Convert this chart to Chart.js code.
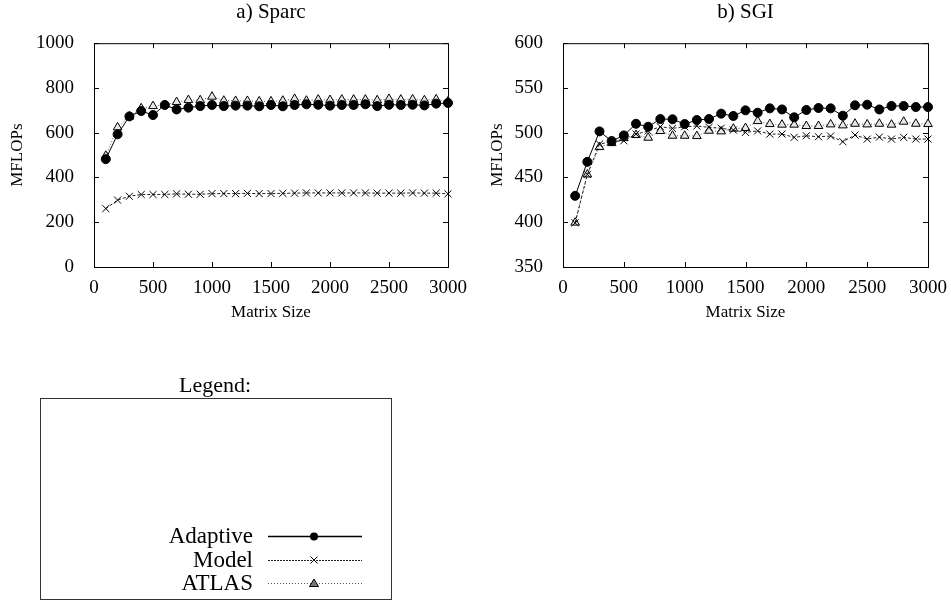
<!DOCTYPE html>
<html>
<head>
<meta charset="utf-8">
<script src="https://cdn.jsdelivr.net/npm/chart.js@4.4.1/dist/chart.umd.min.js"></script>
<style>
  body { margin: 0; background: #fff; width: 951px; height: 601px; overflow: hidden; position: relative; }
  canvas { position: absolute; }
</style>
</head>
<body>
<canvas id="sparc" width="470" height="330" style="left:0;top:0"></canvas>
<canvas id="sgi" width="471" height="330" style="left:480px;top:0"></canvas>
<canvas id="legend" width="400" height="241" style="left:0;top:360px"></canvas>
<script>
// matrix sizes (x values)
const sizes = [100, 200, 300, 400, 500, 600, 700, 800, 900, 1000,
  1100, 1200, 1300, 1400, 1500, 1600, 1700, 1800, 1900, 2000,
  2100, 2200, 2300, 2400, 2500, 2600, 2700, 2800, 2900, 3000];

// a) Sparc, MFLOPs
const sparcAdaptive = [482, 593, 673, 697, 679, 724, 704, 712, 719, 724,
  719, 721, 721, 718, 724, 718, 724, 727, 725, 721,
  724, 724, 727, 719, 725, 724, 725, 722, 730, 733];
const sparcModel = [261, 299, 316, 324, 324, 324, 327, 325, 325, 328,
  328, 328, 329, 328, 328, 329, 330, 331, 331, 331,
  331, 331, 331, 330, 330, 330, 331, 330, 330, 327];
const sparcAtlas = [497, 624, 672, 709, 719, 724, 737, 746, 745, 761,
  743, 742, 742, 740, 740, 743, 751, 743, 748, 746,
  748, 748, 748, 745, 751, 748, 749, 745, 749, 740];

// b) SGI, MFLOPs
const sgiAdaptive = [429.5, 467.5, 501.5, 490.7, 497, 510, 506.7, 515.3, 515, 509.7,
  514.2, 515.3, 521.3, 518.7, 525, 522.4, 527.2, 526, 517.2, 525.4,
  527.6, 527.2, 519, 530.6, 531.3, 526, 529.9, 529.9, 528.7, 528.7];
const sgiModel = [399.3, 453.4, 487.3, 490, 491, 498.5, 501.9, 506.7, 504.9, 506.7,
  507.5, 506, 505, 503, 500.4, 502, 498.5, 498.5, 494.8, 496.6,
  495.5, 496.3, 490, 497.4, 492.9, 495.1, 492.9, 494.8, 492.9, 492.9];
const sgiAtlas = [399.6, 453.4, 484, 488.4, 494, 497.4, 494.4, 501.9, 496.6, 496.6,
  496.3, 502.2, 501.5, 504.5, 505.2, 513, 509.7, 509, 509, 507.5,
  507.5, 509.3, 508.2, 510, 509.3, 510, 509, 512.3, 510, 509.7];

const seriesNames = ['Adaptive', 'Model', 'ATLAS'];
const xTicks = { min: 0, max: 3000, step: 500 };
const SERIF = '"Liberation Serif", "Times New Roman", serif';

// gnuplot style frame with inward tick marks
const framePlugin = {
  id: 'frame',
  beforeDatasetsDraw(chart) {
    const { ctx, chartArea: a, scales } = chart;
    const t = 5;
    ctx.save();
    ctx.strokeStyle = '#000';
    ctx.lineWidth = 1;
    ctx.strokeRect(a.left + 0.5, a.top + 0.5, a.right - a.left, a.bottom - a.top);
    ctx.beginPath();
    scales.x.ticks.forEach((tk) => {
      const px = Math.round(scales.x.getPixelForValue(tk.value)) + 0.5;
      ctx.moveTo(px, a.bottom); ctx.lineTo(px, a.bottom - t);
      ctx.moveTo(px, a.top); ctx.lineTo(px, a.top + t);
    });
    scales.y.ticks.forEach((tk) => {
      const py = Math.round(scales.y.getPixelForValue(tk.value)) + 0.5;
      ctx.moveTo(a.left, py); ctx.lineTo(a.left + t, py);
      ctx.moveTo(a.right, py); ctx.lineTo(a.right - t, py);
    });
    ctx.stroke();
    ctx.restore();
  },
};

function toPoints(values) {
  return values.map((v, i) => ({ x: sizes[i], y: v }));
}

function makeChart(id, title, yMin, yMax, yStep, yWidth, adaptive, model, atlas) {
  return new Chart(document.getElementById(id), {
    type: 'line',
    data: {
      datasets: [
        {
          label: seriesNames[0],
          data: toPoints(adaptive),
          borderColor: '#000',
          borderWidth: 1,
          pointStyle: 'circle',
          pointRadius: 4.5,
          pointBackgroundColor: '#000',
          pointBorderColor: '#000',
          clip: false,
        },
        {
          label: seriesNames[1],
          data: toPoints(model),
          borderColor: '#222',
          borderWidth: 1,
          borderDash: [3, 2],
          pointStyle: 'crossRot',
          pointRadius: 5,
          pointBorderColor: '#000',
          pointBorderWidth: 1,
          clip: false,
        },
        {
          label: seriesNames[2],
          data: toPoints(atlas),
          borderColor: '#555',
          borderWidth: 1,
          borderDash: [1, 2],
          pointStyle: 'triangle',
          pointRadius: 5,
          pointBackgroundColor: '#e6e6e6',
          pointBorderColor: '#000',
          pointBorderWidth: 1,
          clip: false,
        },
      ],
    },
    options: {
      responsive: false,
      animation: false,
      events: [],
      layout: { padding: { left: 0, right: id === 'sparc' ? 22 : 23, top: 0, bottom: 0 } },
      plugins: {
        legend: { display: false },
        tooltip: { enabled: false },
        title: {
          display: true,
          text: title,
          fullSize: false,
          color: '#000',
          font: { family: SERIF, size: 21, weight: 'normal' },
          padding: { top: 0, bottom: 18 },
        },
      },
      scales: {
        x: {
          type: 'linear',
          min: xTicks.min,
          max: xTicks.max,
          grid: { display: false },
          border: { display: false },
          ticks: {
            stepSize: xTicks.step, color: '#000', padding: 2,
            font: { family: SERIF, size: 19 },
            callback: (v) => String(v),
          },
          title: {
            display: true, text: 'Matrix Size', color: '#000',
            font: { family: SERIF, size: 17 }, padding: { top: 0, bottom: 7 },
          },
          afterFit: (s) => { s.height = 63; },
        },
        y: {
          min: yMin,
          max: yMax,
          grid: { display: false },
          border: { display: false },
          ticks: {
            stepSize: yStep, color: '#000', padding: 12,
            font: { family: SERIF, size: 19 },
            callback: (v) => String(v),
          },
          title: {
            display: true, text: 'MFLOPs', color: '#000',
            font: { family: SERIF, size: 17 }, padding: { top: 7, bottom: 0 },
          },
          afterFit: (s) => { s.width = yWidth; },
        },
      },
    },
    plugins: [framePlugin],
  });
}

makeChart('sparc', 'a) Sparc', 0, 1000, 200, 94, sparcAdaptive, sparcModel, sparcAtlas);
makeChart('sgi', 'b) SGI', 350, 600, 50, 83, sgiAdaptive, sgiModel, sgiAtlas);

// separate key box below the plots
(function drawLegend() {
  const c = document.getElementById('legend');
  const ctx = c.getContext('2d');
  const oy = 360;
  ctx.fillStyle = '#000';
  ctx.font = '22px ' + SERIF;
  ctx.textAlign = 'center';
  ctx.textBaseline = 'middle';
  ctx.fillText('Legend:', 215, 386 - oy);

  ctx.strokeStyle = '#333';
  ctx.lineWidth = 1;
  ctx.strokeRect(40.5, 398.5 - oy, 351, 201);

  const rows = [536, 560, 583];
  const dashes = [[], [2, 1], [1, 2]];
  const colors = ['#000', '#222', '#555'];
  ctx.textAlign = 'right';
  ctx.font = '23px ' + SERIF;
  rows.forEach((y, i) => {
    const yy = y - oy;
    ctx.fillStyle = '#000';
    ctx.fillText(seriesNames[i], 253, yy + 1);
    ctx.save();
    ctx.strokeStyle = colors[i];
    ctx.lineWidth = i === 0 ? 1.5 : 1;
    ctx.setLineDash(dashes[i]);
    ctx.beginPath();
    ctx.moveTo(268, yy + 0.5);
    ctx.lineTo(362, yy + 0.5);
    ctx.stroke();
    ctx.restore();
    ctx.save();
    ctx.strokeStyle = '#000';
    ctx.lineWidth = 1;
    ctx.beginPath();
    if (i === 0) {
      ctx.fillStyle = '#000';
      ctx.arc(314, yy + 0.5, 4, 0, Math.PI * 2);
      ctx.fill();
    } else if (i === 1) {
      ctx.moveTo(310.5, yy - 3.5); ctx.lineTo(317.5, yy + 3.5);
      ctx.moveTo(317.5, yy - 3.5); ctx.lineTo(310.5, yy + 3.5);
      ctx.stroke();
    } else {
      ctx.fillStyle = '#777';
      ctx.moveTo(314, yy - 4); ctx.lineTo(318.5, yy + 3.5); ctx.lineTo(309.5, yy + 3.5);
      ctx.closePath();
      ctx.fill();
      ctx.stroke();
    }
    ctx.restore();
  });
})();
</script>
</body>
</html>
